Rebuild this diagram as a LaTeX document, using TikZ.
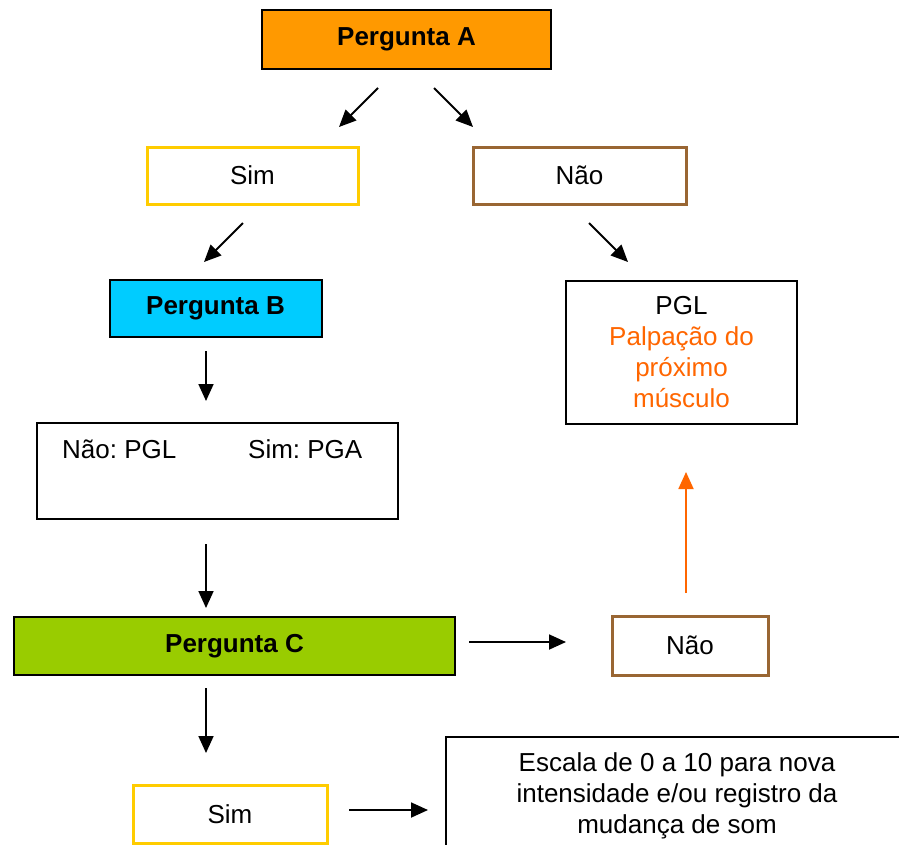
\documentclass[tikz,border=0pt]{standalone}
\usepackage{fontspec}
\setmainfont{Liberation Sans}
\usetikzlibrary{arrows.meta}
\definecolor{qorange}{HTML}{FF9900}
\definecolor{qcyan}{HTML}{00CCFF}
\definecolor{qgreen}{HTML}{99CC00}
\definecolor{qyellow}{HTML}{FFCC00}
\definecolor{qbrown}{HTML}{996633}
\definecolor{qtext}{HTML}{FF6600}
\frenchspacing
\tikzset{
  box/.style={draw=black, line width=2pt, rectangle, inner sep=0pt, font=\fontsize{26}{31}\selectfont},
  qbox/.style={box, font=\fontsize{26}{31}\selectfont\bfseries},
  yesbox/.style={box, draw=qyellow, line width=3pt},
  nobox/.style={box, draw=qbrown, line width=3pt},
  txt/.style={inner sep=0pt, font=\fontsize{26}{31}\selectfont},
  arr/.style={line width=1.8pt, -{Triangle[length=17pt,width=15pt]}},
  oarr/.style={arr, draw=qtext, color=qtext}
}
\begin{document}
\begin{tikzpicture}[x=1pt,y=-1pt]
\useasboundingbox (0,0) rectangle (899,844);
\clip (0,0) rectangle (899,844);
\fill[white] (0,0) rectangle (899,844);

% nodes
\node[qbox, fill=qorange, minimum width=289pt, minimum height=59pt] (A) at (406.5,39.5) {Pergunta A};
\node[yesbox, minimum width=211pt, minimum height=57pt] (sim1) at (252.5,175.5) {Sim};
\node[nobox, minimum width=213pt, minimum height=57pt] (nao1) at (579.5,175.5) {Não};
\node[qbox, fill=qcyan, minimum width=212pt, minimum height=57pt] (B) at (215.5,308.5) {Pergunta B};
\node[box, minimum width=361pt, minimum height=96pt] (bres) at (217.5,471) {};
\node[txt, anchor=west] (bno) at (62,449) {Não: PGL};
\node[txt, anchor=west] (bsim) at (248,449) {Sim: PGA};
\node[box, minimum width=231pt, minimum height=143pt, align=center] (pgl) at (681.5,352.5)
  {PGL\\ \textcolor{qtext}{Palpação do}\\ \textcolor{qtext}{próximo}\\ \textcolor{qtext}{músculo}};
\node[qbox, fill=qgreen, minimum width=441pt, minimum height=58pt] (C) at (234.5,646) {Pergunta C};
\node[nobox, minimum width=156pt, minimum height=59pt] (nao2) at (690,645.5) {Não};
\node[yesbox, minimum width=194pt, minimum height=58pt] (sim2) at (230,814) {Sim};
\node[box, minimum width=462pt, minimum height=118pt, align=center] (esc) at (677,796)
  {Escala de 0 a 10 para nova\\ intensidade e/ou registro da\\ mudança de som};

% arrow end points
\coordinate (a1s) at (378,88);  \coordinate (a1e) at (339,127);
\coordinate (a2s) at (434,88);  \coordinate (a2e) at (473,127);
\coordinate (a3s) at (243,223); \coordinate (a3e) at (204,262);
\coordinate (a4s) at (589,223); \coordinate (a4e) at (628,262);
\coordinate (a5s) at (206,351); \coordinate (a5e) at (206,401);
\coordinate (a6s) at (206,544); \coordinate (a6e) at (206,608);
\coordinate (a7s) at (206,688); \coordinate (a7e) at (206,753);
\coordinate (a8s) at (469,642); \coordinate (a8e) at (566,642);
\coordinate (a9s) at (686,593); \coordinate (a9e) at (686,472);
\coordinate (a10s) at (349,810); \coordinate (a10e) at (428,810);

\draw[arr] (a1s) -- (a1e);
\draw[arr] (a2s) -- (a2e);
\draw[arr] (a3s) -- (a3e);
\draw[arr] (a4s) -- (a4e);
\draw[arr] (a5s) -- (a5e);
\draw[arr] (a6s) -- (a6e);
\draw[arr] (a7s) -- (a7e);
\draw[arr] (a8s) -- (a8e);
\draw[oarr] (a9s) -- (a9e);
\draw[arr] (a10s) -- (a10e);
\end{tikzpicture}
\end{document}
